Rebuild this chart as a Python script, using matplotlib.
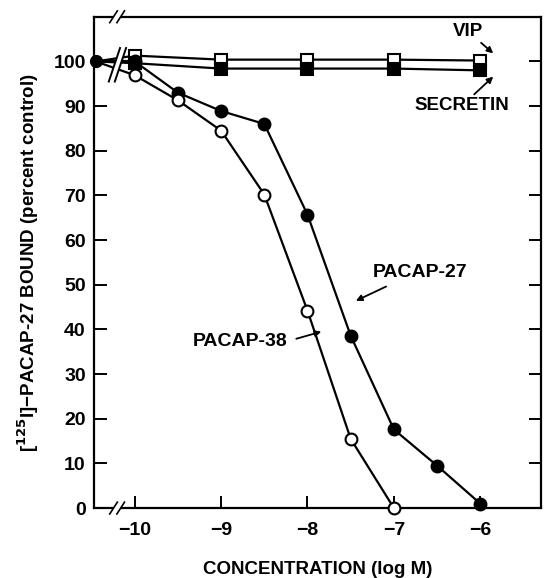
import matplotlib
matplotlib.use("Agg")
import matplotlib.pyplot as plt
from matplotlib.patches import Polygon

plt.rcParams['font.family'] = ['Liberation Sans', 'DejaVu Sans']
plt.rcParams['font.weight'] = 'bold'
plt.rcParams['mathtext.default'] = 'bf'
plt.rcParams['axes.unicode_minus'] = True

# log M concentrations (first point is the control, drawn at the axis break)
x_ctrl = -10.45
x_vip = [-10, -9, -8, -7, -6]
y_vip = [101.3, 100.4, 100.4, 100.4, 100.2]
x_sec = [-10, -9, -8, -7, -6]
y_sec = [99.6, 98.4, 98.4, 98.4, 98.0]
x_p27 = [-10, -9.5, -9, -8.5, -8, -7.5, -7, -6.5, -6]
y_p27 = [100, 93.0, 88.9, 86.0, 65.7, 38.6, 17.6, 9.5, 1.0]
x_p38 = [-10, -9.5, -9, -8.5, -8, -7.5, -7]
y_p38 = [96.9, 91.3, 84.5, 70.2, 44.2, 15.5, 0.0]

xticks = [-10, -9, -8, -7, -6]
yticks = list(range(0, 101, 10))

fig = plt.figure(figsize=(5.44, 5.78), dpi=100)
ax = fig.add_axes([0.173, 0.121, 0.821, 0.850])

lw = 1.6
ms = 8.5

def draw(xs, ys, marker, fill):
    # segment from control to first point
    ax.plot([x_ctrl, xs[0]], [100, ys[0]], color='black', lw=lw, zorder=2, clip_on=False)
    ax.plot(xs, ys, color='black', lw=lw, zorder=2)
    ax.plot(xs, ys, linestyle='none', marker=marker, ms=ms, mfc=fill,
            mec='black', mew=1.5, zorder=4, clip_on=False)

draw(x_vip, y_vip, 's', 'white')
draw(x_sec, y_sec, 's', 'black')
draw(x_p27, y_p27, 'o', 'black')
draw(x_p38, y_p38, 'o', 'white')
ax.plot([x_ctrl], [100], marker='o', ms=ms, mfc='black', mec='black', zorder=5, clip_on=False)

# break on data lines
ax.add_patch(Polygon([(-10.30, 95.5), (-10.17, 103), (-10.10, 103), (-10.23, 95.5)],
                     closed=True, fc='white', ec='none', zorder=3))
for dx in (0, 0.07):
    ax.plot([-10.30 + dx, -10.17 + dx], [95.5, 103], color='black', lw=1.4, zorder=3)

ax.set_xlim(-10.47, -5.3)
ax.set_ylim(0, 110)
ax.set_xticks(xticks)
ax.set_xticklabels(['\u2212%d' % abs(v) for v in xticks])
ax.set_yticks(yticks)
ax.tick_params(direction='in', length=9, width=1.4, labelsize=14, pad=6,
               right=True, top=False)
ax.tick_params(axis='x', pad=10)
for s in ax.spines.values():
    s.set_linewidth(1.6)

# break marks on top and bottom spines
for yb in (0, 1):
    ax.add_patch(Polygon([(0.035, yb - 0.012), (0.052, yb + 0.012), (0.068, yb + 0.012), (0.051, yb - 0.012)],
                         closed=True, transform=ax.transAxes, fc='white', ec='none',
                         zorder=6, clip_on=False))
    for dx in (0, 0.016):
        ax.plot([0.035 + dx, 0.052 + dx], [yb - 0.012, yb + 0.012], color='black', lw=1.2,
                transform=ax.transAxes, zorder=7, clip_on=False)

ax.set_xlabel('CONCENTRATION (log M)', fontsize=13.5, fontweight='bold', labelpad=16)
ax.set_ylabel('[$^{125}$I]\u2212PACAP-27 BOUND (percent control)', fontsize=13.5,
              fontweight='bold', labelpad=9)

arrow = dict(arrowstyle='-|>', color='black', lw=1.3, mutation_scale=9, shrinkA=0, shrinkB=0)
ax.annotate('VIP', xy=(-5.85, 101.8), xytext=(-6.14, 106.7), fontsize=13.5,
            fontweight='bold', ha='center', va='center', arrowprops=arrow)
ax.annotate('SECRETIN', xy=(-5.85, 96.6), xytext=(-6.21, 90.1), fontsize=13.5,
            fontweight='bold', ha='center', va='center', arrowprops=arrow)
ax.annotate('', xy=(-7.44, 46.4), xytext=(-7.09, 49.6), arrowprops=arrow)
ax.text(-6.70, 52.7, 'PACAP-27', fontsize=14, fontweight='bold', ha='center', va='center')
ax.annotate('', xy=(-7.84, 39.5), xytext=(-8.13, 37.9), arrowprops=arrow)
ax.text(-8.78, 37.2, 'PACAP-38', fontsize=14, fontweight='bold', ha='center', va='center')

fig.savefig('out.png', dpi=100)
